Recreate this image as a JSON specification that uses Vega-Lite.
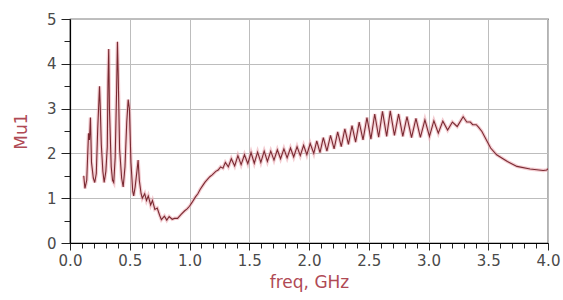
{
  "$schema": "https://vega.github.io/schema/vega-lite/v6.json",
  "width": 478,
  "height": 224,
  "autosize": {"type": "none"},
  "padding": {"left": 70, "top": 19, "right": 15, "bottom": 57},
  "background": "#ffffff",
  "config": {
    "view": {"stroke": "#000000", "strokeWidth": 1.2},
    "font": "DejaVu Sans"
  },
  "data": {
    "values": [
      {"f": 0.115, "mu": 1.5}, {"f": 0.125, "mu": 1.22}, {"f": 0.14, "mu": 1.4}, {"f": 0.155, "mu": 2.45},
      {"f": 0.163, "mu": 2.3}, {"f": 0.171, "mu": 2.8}, {"f": 0.18, "mu": 1.8}, {"f": 0.195, "mu": 1.45},
      {"f": 0.207, "mu": 1.35}, {"f": 0.22, "mu": 1.55}, {"f": 0.232, "mu": 2.55}, {"f": 0.247, "mu": 3.5},
      {"f": 0.253, "mu": 3.05}, {"f": 0.262, "mu": 2.2}, {"f": 0.275, "mu": 1.6}, {"f": 0.286, "mu": 1.35},
      {"f": 0.3, "mu": 1.6}, {"f": 0.312, "mu": 2.15}, {"f": 0.318, "mu": 3.6}, {"f": 0.324, "mu": 4.33},
      {"f": 0.33, "mu": 3.0}, {"f": 0.345, "mu": 1.7}, {"f": 0.356, "mu": 1.4}, {"f": 0.366, "mu": 1.35},
      {"f": 0.378, "mu": 1.9}, {"f": 0.39, "mu": 3.4}, {"f": 0.397, "mu": 4.49}, {"f": 0.403, "mu": 3.8},
      {"f": 0.415, "mu": 2.1}, {"f": 0.432, "mu": 1.45}, {"f": 0.445, "mu": 1.25}, {"f": 0.46, "mu": 1.7},
      {"f": 0.475, "mu": 2.7}, {"f": 0.487, "mu": 3.2}, {"f": 0.497, "mu": 3.0}, {"f": 0.51, "mu": 1.8},
      {"f": 0.525, "mu": 1.15}, {"f": 0.533, "mu": 1.05}, {"f": 0.545, "mu": 1.25}, {"f": 0.56, "mu": 1.6},
      {"f": 0.57, "mu": 1.85}, {"f": 0.58, "mu": 1.4}, {"f": 0.595, "mu": 1.1}, {"f": 0.605, "mu": 1.0},
      {"f": 0.625, "mu": 1.1}, {"f": 0.64, "mu": 0.95}, {"f": 0.655, "mu": 1.05}, {"f": 0.675, "mu": 0.85},
      {"f": 0.69, "mu": 0.95}, {"f": 0.71, "mu": 0.75}, {"f": 0.73, "mu": 0.78}, {"f": 0.75, "mu": 0.62},
      {"f": 0.765, "mu": 0.52}, {"f": 0.79, "mu": 0.6}, {"f": 0.81, "mu": 0.51}, {"f": 0.83, "mu": 0.59},
      {"f": 0.855, "mu": 0.53}, {"f": 0.875, "mu": 0.55}, {"f": 0.9, "mu": 0.55}, {"f": 0.93, "mu": 0.64},
      {"f": 0.96, "mu": 0.72}, {"f": 0.98, "mu": 0.76}, {"f": 1.0, "mu": 0.82}, {"f": 1.02, "mu": 0.9},
      {"f": 1.05, "mu": 1.03}, {"f": 1.07, "mu": 1.1}, {"f": 1.09, "mu": 1.2}, {"f": 1.11, "mu": 1.28},
      {"f": 1.13, "mu": 1.36}, {"f": 1.15, "mu": 1.42}, {"f": 1.17, "mu": 1.48}, {"f": 1.19, "mu": 1.52},
      {"f": 1.22, "mu": 1.6}, {"f": 1.24, "mu": 1.63}, {"f": 1.26, "mu": 1.7}, {"f": 1.28, "mu": 1.67},
      {"f": 1.3, "mu": 1.8}, {"f": 1.325, "mu": 1.7}, {"f": 1.35, "mu": 1.88}, {"f": 1.378, "mu": 1.72},
      {"f": 1.405, "mu": 1.95}, {"f": 1.432, "mu": 1.75}, {"f": 1.46, "mu": 1.97}, {"f": 1.488, "mu": 1.77},
      {"f": 1.515, "mu": 2.02}, {"f": 1.542, "mu": 1.78}, {"f": 1.57, "mu": 2.03}, {"f": 1.597, "mu": 1.8},
      {"f": 1.625, "mu": 2.05}, {"f": 1.652, "mu": 1.82}, {"f": 1.68, "mu": 2.05}, {"f": 1.707, "mu": 1.85},
      {"f": 1.735, "mu": 2.08}, {"f": 1.762, "mu": 1.88}, {"f": 1.79, "mu": 2.1}, {"f": 1.817, "mu": 1.9},
      {"f": 1.845, "mu": 2.12}, {"f": 1.872, "mu": 1.92}, {"f": 1.9, "mu": 2.15}, {"f": 1.927, "mu": 1.95},
      {"f": 1.955, "mu": 2.18}, {"f": 1.982, "mu": 1.97}, {"f": 2.01, "mu": 2.22}, {"f": 2.04, "mu": 2.0},
      {"f": 2.065, "mu": 2.28}, {"f": 2.092, "mu": 2.02}, {"f": 2.12, "mu": 2.35}, {"f": 2.15, "mu": 2.05},
      {"f": 2.18, "mu": 2.4}, {"f": 2.21, "mu": 2.1}, {"f": 2.24, "mu": 2.48}, {"f": 2.27, "mu": 2.15},
      {"f": 2.3, "mu": 2.55}, {"f": 2.33, "mu": 2.2}, {"f": 2.36, "mu": 2.62}, {"f": 2.39, "mu": 2.25},
      {"f": 2.42, "mu": 2.7}, {"f": 2.452, "mu": 2.3}, {"f": 2.485, "mu": 2.8}, {"f": 2.518, "mu": 2.32},
      {"f": 2.55, "mu": 2.88}, {"f": 2.583, "mu": 2.36}, {"f": 2.615, "mu": 2.94}, {"f": 2.65, "mu": 2.38},
      {"f": 2.68, "mu": 2.95}, {"f": 2.715, "mu": 2.4}, {"f": 2.75, "mu": 2.88}, {"f": 2.785, "mu": 2.38},
      {"f": 2.82, "mu": 2.82}, {"f": 2.858, "mu": 2.35}, {"f": 2.895, "mu": 2.78}, {"f": 2.932, "mu": 2.36},
      {"f": 2.97, "mu": 2.75}, {"f": 3.008, "mu": 2.38}, {"f": 3.045, "mu": 2.73}, {"f": 3.082, "mu": 2.45},
      {"f": 3.12, "mu": 2.72}, {"f": 3.16, "mu": 2.52}, {"f": 3.2, "mu": 2.7}, {"f": 3.24, "mu": 2.6},
      {"f": 3.29, "mu": 2.82}, {"f": 3.32, "mu": 2.7}, {"f": 3.35, "mu": 2.7}, {"f": 3.37, "mu": 2.64},
      {"f": 3.4, "mu": 2.64}, {"f": 3.42, "mu": 2.58}, {"f": 3.447, "mu": 2.49}, {"f": 3.49, "mu": 2.27},
      {"f": 3.52, "mu": 2.12}, {"f": 3.57, "mu": 1.97}, {"f": 3.66, "mu": 1.82}, {"f": 3.74, "mu": 1.71},
      {"f": 3.85, "mu": 1.65}, {"f": 3.96, "mu": 1.62}, {"f": 3.99, "mu": 1.63}, {"f": 4.0, "mu": 1.66}
    ]
  },
  "encoding": {
    "x": {
      "field": "f",
      "type": "quantitative",
      "scale": {"domain": [0, 4], "nice": false, "zero": false},
      "axis": {
        "title": "freq, GHz",
        "values": [0, 0.1, 0.2, 0.3, 0.4, 0.5, 0.6, 0.7, 0.8, 0.9, 1.0, 1.1, 1.2, 1.3, 1.4, 1.5, 1.6, 1.7, 1.8, 1.9, 2.0, 2.1, 2.2, 2.3, 2.4, 2.5, 2.6, 2.7, 2.8, 2.9, 3.0, 3.1, 3.2, 3.3, 3.4, 3.5, 3.6, 3.7, 3.8, 3.9, 4.0],
        "labelExpr": "abs(datum.value * 2 - round(datum.value * 2)) < 0.001 ? format(datum.value, '.1f') : ''",
        "labelOverlap": false,
        "labelFlush": false,
        "labelFont": "DejaVu Sans",
        "labelFontSize": 15,
        "labelColor": "#4a4a4a",
        "labelPadding": 3,
        "tickColor": "#222222",
        "tickSize": {"condition": {"test": "abs(datum.value * 2 - round(datum.value * 2)) < 0.001", "value": 7}, "value": 5},
        "domainColor": "#000000",
        "domainWidth": 1.2,
        "grid": true,
        "gridColor": "#bdbdbd",
        "gridWidth": 1,
        "gridOpacity": {"condition": {"test": "abs(datum.value * 2 - round(datum.value * 2)) < 0.001", "value": 1}, "value": 0},
        "titleFont": "DejaVu Sans",
        "titleFontSize": 17,
        "titleFontWeight": "normal",
        "titleColor": "#b04a55",
        "titlePadding": 6
      }
    },
    "y": {
      "field": "mu",
      "type": "quantitative",
      "scale": {"domain": [0, 5], "nice": false, "zero": false},
      "axis": {
        "title": "Mu1",
        "values": [0, 0.5, 1, 1.5, 2, 2.5, 3, 3.5, 4, 4.5, 5],
        "labelExpr": "datum.value == round(datum.value) ? format(datum.value, 'd') : ''",
        "labelOverlap": false,
        "labelFlush": false,
        "labelFont": "DejaVu Sans",
        "labelFontSize": 15,
        "labelColor": "#4a4a4a",
        "labelPadding": 5,
        "tickColor": "#222222",
        "tickSize": {"condition": {"test": "datum.value == round(datum.value)", "value": 9}, "value": 6},
        "domainColor": "#000000",
        "domainWidth": 1.2,
        "grid": true,
        "gridColor": "#bdbdbd",
        "gridWidth": 1,
        "gridOpacity": {"condition": {"test": "datum.value == round(datum.value)", "value": 1}, "value": 0},
        "titleFont": "DejaVu Sans",
        "titleFontSize": 17,
        "titleFontWeight": "normal",
        "titleColor": "#b04a55",
        "titlePadding": 16
      }
    }
  },
  "layer": [
    {
      "mark": {"type": "line", "color": "#eaa3ab", "strokeWidth": 3.5, "opacity": 0.55, "clip": true}
    },
    {
      "mark": {"type": "line", "color": "#7a2a32", "strokeWidth": 1.1, "clip": true}
    }
  ]
}
